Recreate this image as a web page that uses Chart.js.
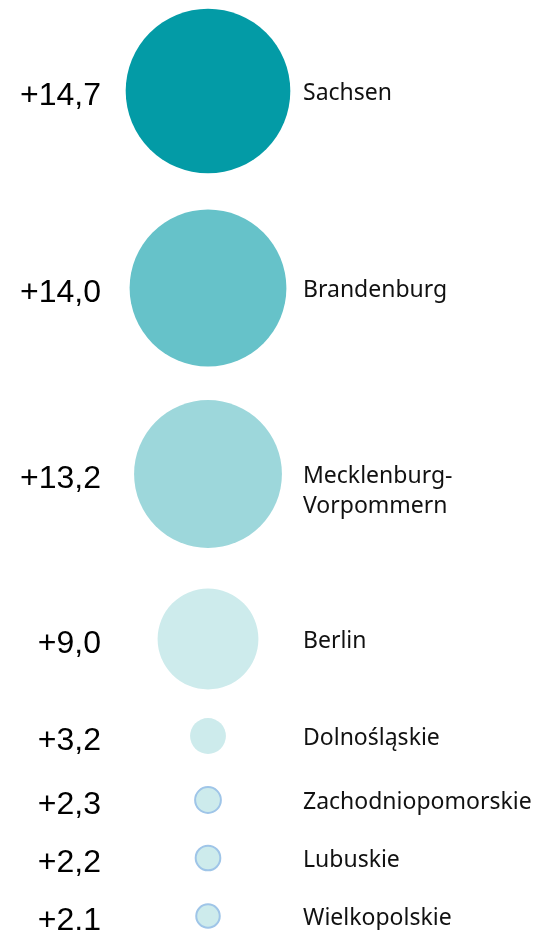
<!DOCTYPE html>
<html>
<head>
<meta charset="utf-8">
<script src="https://cdn.jsdelivr.net/npm/chart.js@4"></script>
<style>
  html, body { margin: 0; padding: 0; background: #fff; }
  #wrap { position: relative; width: 536px; height: 930px; }
</style>
</head>
<body>
<div id="wrap"><canvas id="chart"></canvas></div>
<script>
const regions = ['Sachsen', 'Brandenburg', ['Mecklenburg-', 'Vorpommern'], 'Berlin',
  'Dolnośląskie', 'Zachodniopomorskie', 'Lubuskie', 'Wielkopolskie'];
const growth = [14.7, 14.0, 13.2, 9.0, 3.2, 2.3, 2.2, 2.1];
const rowPos = [91, 288, 474, 639, 736, 800, 858, 916];
const fillColors = ['#039ba6', '#66c2c9', '#9dd7db', '#cdebec', '#cdebec', '#cdebec', '#cdebec', '#cdebec'];
const borderColors = ['#039ba6', '#66c2c9', '#9dd7db', '#cdebec', '#cdebec', '#9fc5e8', '#9fc5e8', '#9fc5e8'];

const bubbleX = 208;
const pxPerUnit = 5.6; // radius grows with the value

function fmt(v) {
  return '+' + v.toFixed(1).replace('.', ',');
}

const textPlugin = {
  id: 'sideText',
  afterDatasetsDraw(chart) {
    const ctx = chart.ctx;
    const meta = chart.getDatasetMeta(0);
    ctx.save();
    ctx.textBaseline = 'middle';
    meta.data.forEach((pt, i) => {
      // value on the left
      ctx.font = '32px "Liberation Sans", Arial, sans-serif';
      ctx.fillStyle = '#000';
      ctx.textAlign = 'right';
      ctx.fillText(fmt(growth[i]), 101, pt.y + 5);
      // region name on the right
      ctx.font = '23px "Noto Sans", sans-serif';
      ctx.fillStyle = '#111';
      ctx.textAlign = 'left';
      const lines = Array.isArray(regions[i]) ? regions[i] : [regions[i]];
      lines.forEach((line, j) => ctx.fillText(line, 303, pt.y + 2 + j * 30));
    });
    ctx.restore();
  }
};

new Chart(document.getElementById('chart'), {
  type: 'bubble',
  data: {
    datasets: [{
      data: growth.map((v, i) => ({ x: bubbleX, y: rowPos[i], r: v * pxPerUnit })),
      backgroundColor: fillColors,
      borderColor: borderColors,
      borderWidth: growth.map(v => v < 3 ? 2 : 0),
      clip: false
    }]
  },
  options: {
    responsive: true,
    maintainAspectRatio: false,
    animation: false,
    layout: { padding: 0, autoPadding: false },
    plugins: {
      legend: { display: false },
      tooltip: { enabled: false }
    },
    scales: {
      x: { type: 'linear', min: 0, max: 536, display: false },
      y: { type: 'linear', min: 0, max: 930, reverse: true, display: false }
    }
  },
  plugins: [textPlugin]
});
</script>
</body>
</html>
